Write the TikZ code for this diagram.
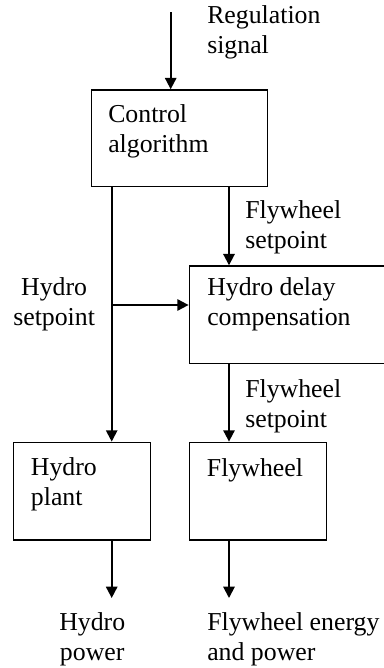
\documentclass[tikz,border=0pt]{standalone}
\usepackage{fontspec}
\setmainfont{Liberation Serif}
\usetikzlibrary{arrows.meta,positioning,calc}

\begin{document}
\begin{tikzpicture}[x=0.75pt,y=-0.75pt,
  blk/.style={draw,line width=1.1pt,inner sep=0pt},
  arr/.style={line width=1.4pt,-{Triangle[length=8.5pt,width=8.5pt]}},
  lbl/.style={font=\fontsize{19.35}{22.1}\selectfont,inner sep=0pt,anchor=base west,align=left}]
  \useasboundingbox (0,0) rectangle (383,668);

  \node[blk,minimum width=132pt,minimum height=72.5pt] (ctrl) at (179.7,138.3) {};
  \node[blk,minimum width=158pt,minimum height=73pt] (delay) at (294.7,314.7) {};
  \node[blk,minimum width=103pt,minimum height=73.3pt] (hydro) at (82,491.2) {};
  \node[blk,minimum width=103pt,minimum height=73.3pt] (fly) at (258,491.2) {};

  \coordinate (in) at (170.7,12);
  \coordinate (hx) at (111.7,305);
  \coordinate (fx) at (229,0);
  \coordinate (hout) at (111.7,598);
  \coordinate (fout) at (229,598);

  \draw[arr] (in) -- (in |- ctrl.north);
  \draw[arr] (hx |- ctrl.south) -- (hx |- hydro.north);
  \draw[arr] (hx) -- (hx -| delay.west);
  \draw[arr] (fx |- ctrl.south) -- (fx |- delay.north);
  \draw[arr] (fx |- delay.south) -- (fx |- fly.north);
  \draw[arr] (hx |- hydro.south) -- (hout);
  \draw[arr] (fx |- fly.south) -- (fout);

  % base = last line
  \node[lbl] (reg) at (207,53) {Regulation\\signal};
  \node[lbl] (ctrltxt) at (108,152) {Control\\algorithm};
  \node[lbl] (fsp1) at (245,248) {Flywheel\\setpoint};
  \node[lbl,align=center] (hsp) at (13,325) {Hydro\\setpoint};
  \node[lbl] (deltxt) at (207,325) {Hydro delay\\compensation};
  \node[lbl] (fsp2) at (245,427) {Flywheel\\setpoint};
  \node[lbl] (hydtxt) at (30.7,505) {Hydro\\plant};
  \node[lbl] (flytxt) at (206.7,476) {Flywheel};
  \node[lbl,align=center] (hpow) at (59,660) {Hydro\\power};
  \node[lbl] (fpow) at (207,660) {Flywheel energy\\and power};
\end{tikzpicture}
\end{document}
